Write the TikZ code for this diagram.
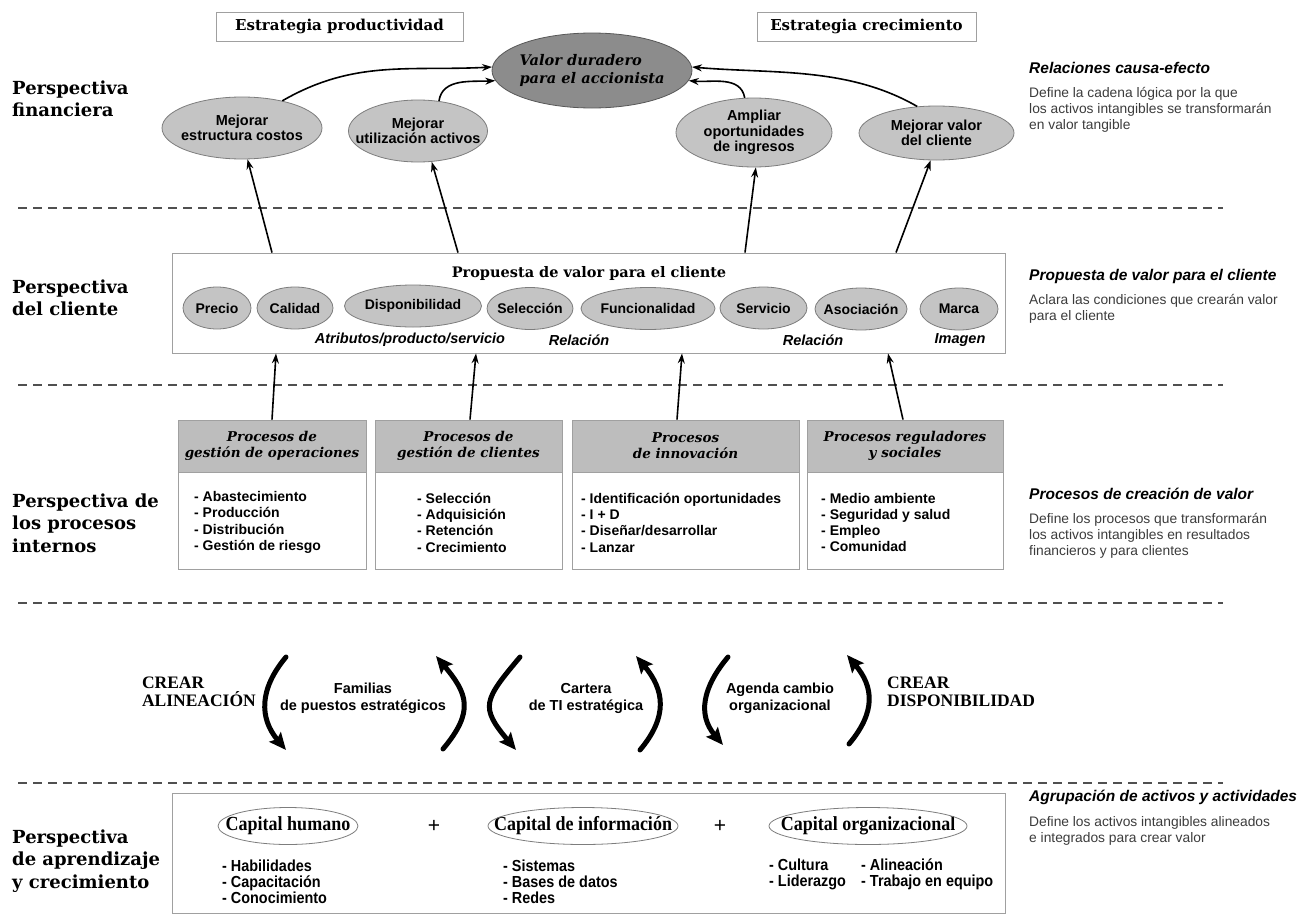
\documentclass[tikz,border=0pt]{standalone}
\usepackage{fontspec}
\setmainfont{Liberation Sans}
\newfontfamily\headserif{DejaVu Serif}
\newfontfamily\timesserif{Liberation Serif}
\newfontfamily\capserif[FakeStretch=0.9]{Liberation Serif}
\newfontfamily\narrowsans[FakeStretch=0.9]{Liberation Sans}
\usetikzlibrary{arrows.meta,shapes.geometric,positioning}
\definecolor{goalgray}{RGB}{196,196,196}
\definecolor{valorgray}{RGB}{140,140,140}
\definecolor{ringgray}{RGB}{125,125,125}
\definecolor{framegray}{RGB}{160,160,160}
\definecolor{headgray}{RGB}{189,189,189}
\definecolor{dashgray}{RGB}{80,80,80}
\definecolor{notegray}{RGB}{60,60,60}

\begin{document}
\begin{tikzpicture}[x=1pt,y=-1pt,>={Stealth[length=10pt,width=7pt]},
	persp/.style={anchor=west,align=left,inner sep=0,font=\headserif\bfseries\fontsize{18}{22.5}\selectfont},
	stratbox/.style={draw=framegray,line width=0.9pt,inner sep=0,minimum height=29,font=\headserif\bfseries\fontsize{15}{18}\selectfont},
	goal/.style={ellipse,draw=ringgray,fill=goalgray,line width=0.8pt,inner xsep=-40pt,inner ysep=-12pt,align=center,font=\bfseries\fontsize{14.5}{15.5}\selectfont},
	attr/.style={goal,minimum height=42,font=\bfseries\fontsize{14}{16}\selectfont},
	attrtag/.style={inner sep=0,font=\bfseries\itshape\fontsize{14.5}{17}\selectfont},
	panel/.style={draw=framegray,line width=0.9pt,inner sep=0},
	prochead/.style={panel,fill=headgray,minimum height=52,align=center,font=\headserif\bfseries\itshape\fontsize{13.5}{16}\selectfont},
	procbody/.style={panel,fill=white,minimum height=97,below=0pt of #1},
	proclist/.style={anchor=west,align=left,inner sep=0,font=\bfseries\fontsize{14}{16.3}\selectfont},
	notehead/.style={anchor=west,inner sep=0,font=\bfseries\itshape\fontsize{15.5}{18}\selectfont},
	notetext/.style={anchor=west,align=left,inner sep=0,text=notegray,font=\fontsize{13.8}{16}\selectfont},
	thinarrow/.style={->,line width=1.6pt},
	bigarrow/.style={line width=5pt,line cap=round,-{Stealth[length=17pt,width=15pt,inset=3pt]}},
	create/.style={align=left,inner sep=0,font=\timesserif\bfseries\fontsize{17.5}{18}\selectfont},
	enabler/.style={align=center,inner sep=0,font=\bfseries\fontsize{14.5}{17}\selectfont},
	capital/.style={inner sep=0,font=\capserif\bfseries\fontsize{20}{22}\selectfont},
	capring/.style={draw=ringgray,line width=0.8pt},
	caplist/.style={anchor=west,align=left,inner sep=0,font=\narrowsans\bfseries\fontsize{16}{15.8}\selectfont},
	plus/.style={inner sep=0,font=\fontsize{21}{21}\selectfont},
	dashline/.style={draw=dashgray,line width=2pt,dash pattern=on 9pt off 6pt}]

	\useasboundingbox (0,0) rectangle (1314,918);
	\fill[white] (0,0) rectangle (1314,918);

	\foreach \yy in {208,385,603,783}
		\draw[dashline] (18,\yy) -- (1223,\yy);

	\node[persp] (pFin) at (12,99) {Perspectiva\\financiera};
	\node[persp] (pCli) at (12,298) {Perspectiva\\del cliente};
	\node[persp] (pInt) at (12,523) {Perspectiva de\\los procesos\\internos};
	\node[persp] (pApr) at (12,861) {Perspectiva\\de aprendizaje\\y crecimiento};

	\node[stratbox,minimum width=247] (sProd) at (339.5,26.5) {Estrategia productividad};
	\node[stratbox,minimum width=219] (sCrec) at (866.5,26.5) {Estrategia crecimiento};

	\node[goal,fill=valorgray,draw=ringgray!70!black,minimum width=200,minimum height=75,align=left,font=\headserif\bfseries\itshape\fontsize{14.6}{17.5}\selectfont] (valor) at (592,70.5) {Valor duradero\\para el accionista};
	\node[goal,minimum width=160,minimum height=62] (costos) at (242,128) {Mejorar\\estructura costos};
	\node[goal,minimum width=139,minimum height=62] (activos) at (418,131) {Mejorar\\utilización activos};
	\node[goal,minimum width=156,minimum height=69] (ingresos) at (754,132.5) {Ampliar\\oportunidades\\de ingresos};
	\node[goal,minimum width=155,minimum height=54] (valorcli) at (936.5,133) {Mejorar valor\\del cliente};

	\draw[thinarrow] (costos.34) to[out=30,in=183] (valor.178);
	\draw[thinarrow] (activos.55) to[out=82,in=183] (valor.186);
	\draw[thinarrow] (ingresos.105) to[out=100,in=355] (valor.354);
	\draw[thinarrow] (valorcli.126) to[out=150,in=355,looseness=0.9] (valor.2);

	\node[notehead] (nCausa) at (1029,68) {Relaciones causa-efecto};
	\node[notetext] (tCausa) at (1029,110) {Define la cadena lógica por la que\\los activos intangibles se transformarán\\en valor tangible};
	\node[notehead] (nProp) at (1029,276) {Propuesta de valor para el cliente};
	\node[notetext] (tProp) at (1029,309) {Aclara las condiciones que crearán valor\\para el cliente};
	\node[notehead] (nProc) at (1029,494) {Procesos de creación de valor};
	\node[notetext] (tProc) at (1029,536) {Define los procesos que transformarán\\los activos intangibles en resultados\\financieros y para clientes};
	\node[notehead] (nAgr) at (1029,797) {Agrupación de activos y actividades};
	\node[notetext] (tAgr) at (1029,831) {Define los activos intangibles alineados\\e integrados para crear valor};

	\node[panel,minimum width=833,minimum height=100] (propBox) at (588.5,303) {};
	\node[inner sep=0,font=\headserif\bfseries\fontsize{14.5}{17}\selectfont] (propTitle) at (589,273) {Propuesta de valor para el cliente};
	\node[attr,minimum width=68] (aPrecio) at (217,308) {Precio};
	\node[attr,minimum width=76] (aCalidad) at (295,308) {Calidad};
	\node[attr,minimum width=137] (aDisp) at (413,306) {Disponibilidad};
	\node[attr,minimum width=86] (aSel) at (530,308.5) {Selección};
	\node[attr,minimum width=134] (aFunc) at (648,308.5) {Funcionalidad};
	\node[attr,minimum width=87] (aServ) at (763.5,308) {Servicio};
	\node[attr,minimum width=92] (aAsoc) at (861,309) {Asociación};
	\node[attr,minimum width=78] (aMarca) at (959,309) {Marca};
	\node[attrtag] (tAtrib) at (410,340) {Atributos/producto/servicio};
	\node[attrtag] (tRelA) at (579,340) {Relación};
	\node[attrtag] (tRelB) at (813,340) {Relación};
	\node[attrtag] (tImg) at (960,340) {Imagen};

	\draw[thinarrow] (272,0 |- propBox.north) -- (costos.280);
	\draw[thinarrow] (458,0 |- propBox.north) -- (activos.294);
	\draw[thinarrow] (745,0 |- propBox.north) -- (ingresos.273);
	\draw[thinarrow] (896,0 |- propBox.north) -- (valorcli.258);

	\node[prochead,minimum width=188] (opsHead) at (272,446) {Procesos de\\gestión de operaciones};
	\node[procbody=opsHead,minimum width=188] (opsBody) {};
	\node[prochead,minimum width=187] (cliHead) at (468.5,446) {Procesos de\\gestión de clientes};
	\node[procbody=cliHead,minimum width=187] (cliBody) {};
	\node[prochead,minimum width=227] (innHead) at (685.5,446) {Procesos\\de innovación};
	\node[procbody=innHead,minimum width=227] (innBody) {};
	\node[prochead,minimum width=196] (regHead) at (905,446) {Procesos reguladores\\y sociales};
	\node[procbody=regHead,minimum width=196] (regBody) {};

	\node[proclist] (opsList) at (194,522.5) {- Abastecimiento\\- Producción\\- Distribución\\- Gestión de riesgo};
	\node[proclist] (cliList) at (417,522.5) {- Selección\\- Adquisición\\- Retención\\- Crecimiento};
	\node[proclist] (innList) at (581,522.5) {- Identificación oportunidades\\- I + D\\- Diseñar/desarrollar\\- Lanzar};
	\node[proclist] (regList) at (821,522.5) {- Medio ambiente\\- Seguridad y salud\\- Empleo\\- Comunidad};

	\draw[thinarrow] (opsHead.north) -- (276,0 |- propBox.south);
	\draw[thinarrow] (470,0 |- cliHead.north) -- (476,0 |- propBox.south);
	\draw[thinarrow] (677,0 |- innHead.north) -- (682,0 |- propBox.south);
	\draw[thinarrow] (903,0 |- regHead.north) -- (888,0 |- propBox.south);

	\node[create,anchor=east] (crAlin) at (256,692) {CREAR\\ALINEACIÓN};
	\node[create,anchor=west] (crDisp) at (887,692) {CREAR\\DISPONIBILIDAD};
	\node[enabler] (eFam) at (363,698) {Familias\\de puestos estratégicos};
	\node[enabler] (eCart) at (586,698) {Cartera\\de TI estratégica};
	\node[enabler] (eAgen) at (780,698) {Agenda cambio\\organizacional};

	\coordinate (famL1) at (286,657);
	\coordinate (famL2) at (286,750);
	\coordinate (famR1) at (443,749);
	\coordinate (famR2) at (436,656);
	\coordinate (carL1) at (520,657);
	\coordinate (carL2) at (516,750);
	\coordinate (carR1) at (640,750);
	\coordinate (carR2) at (636,656);
	\coordinate (ageL1) at (728,657);
	\coordinate (ageL2) at (723,745);
	\coordinate (ageR1) at (849,744);
	\coordinate (ageR2) at (847,655);
	\draw[bigarrow] (famL1) to[out=230,in=130,looseness=1.15] (famL2);
	\draw[bigarrow] (famR1) to[out=50,in=310,looseness=1.35] (famR2);
	\draw[bigarrow] (carL1) to[out=230,in=130,looseness=1.55] (carL2);
	\draw[bigarrow] (carR1) to[out=50,in=310,looseness=1.2] (carR2);
	\draw[bigarrow] (ageL1) to[out=230,in=130,looseness=1.15] (ageL2);
	\draw[bigarrow] (ageR1) to[out=50,in=310,looseness=1.2] (ageR2);

	\node[panel,minimum width=833,minimum height=120] (learnBox) at (588.5,853) {};
	\node[capital] (capHum) at (288,826) {Capital humano};
	\draw[capring] (capHum.center) ellipse [x radius=70,y radius=18.5];
	\node[plus] (plusA) at (434,826) {+};
	\node[capital] (capInf) at (583,826) {Capital de información};
	\draw[capring] (capInf.center) ellipse [x radius=95,y radius=18.5];
	\node[plus] (plusB) at (720,826) {+};
	\node[capital] (capOrg) at (868,826) {Capital organizacional};
	\draw[capring] (capOrg.center) ellipse [x radius=99,y radius=18.5];

	\node[caplist] (lHum) at (222,882) {- Habilidades\\- Capacitación\\- Conocimiento};
	\node[caplist] (lInf) at (503,882) {- Sistemas\\- Bases de datos\\- Redes};
	\node[caplist] (lOrgA) at (769,874) {- Cultura\\- Liderazgo};
	\node[caplist] (lOrgB) at (861,874) {- Alineación\\- Trabajo en equipo};
\end{tikzpicture}
\end{document}
